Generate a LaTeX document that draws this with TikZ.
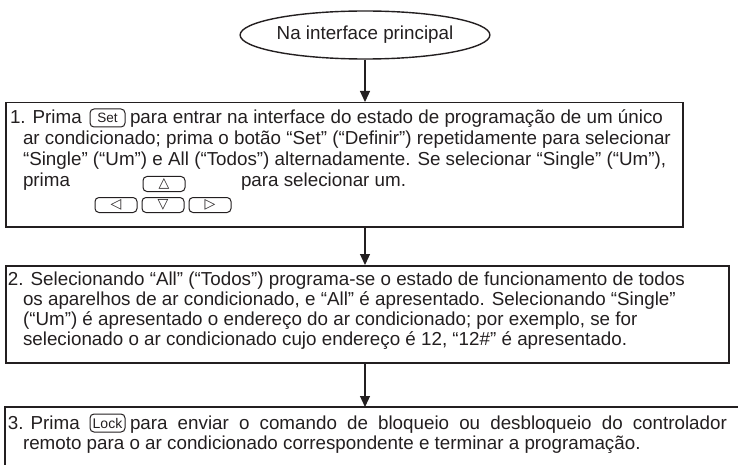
\documentclass[tikz,border=0pt]{standalone}
\usepackage{fontspec}
\setmainfont{Liberation Sans}
\newfontfamily\symfont{DejaVu Sans}
\usetikzlibrary{shapes.geometric,arrows.meta}
\definecolor{ink}{RGB}{35,31,32}
\begin{document}
\begin{tikzpicture}[x=1pt,y=-1pt,
  txt/.style={anchor=base west, inner sep=0pt, outer sep=0pt, text=ink, font=\fontsize{18.8}{20.6}\selectfont},
  box/.style={draw=ink, line width=1.5pt, anchor=north west, inner sep=0pt},
  boxline/.style={draw=ink, line width=1.6pt},
  btn/.style={draw=ink, line width=1pt, rounded corners=4pt, inner sep=0pt, text=ink},
  wbtn/.style={btn, minimum width=35pt, minimum height=18pt, font=\fontsize{13.5}{13.5}\selectfont},
  abtn/.style={btn, minimum width=42pt, minimum height=15pt, font=\symfont\fontsize{14}{14}\selectfont},
  arr/.style={draw=ink, line width=1.2pt, -{Triangle[length=11pt,width=10pt]}},
  startnode/.style={ellipse, draw=ink, line width=1.4pt, minimum width=245pt, minimum height=48pt, inner sep=0pt, text=ink, font=\fontsize{18.8}{20.6}\selectfont}]
\useasboundingbox (0,0) rectangle (738,465);

% start ellipse
\node[startnode] (start) at (365,35) {Na interface principal};

% box 1
\node[box, minimum width=677pt, minimum height=124pt] (box1) at (5,102) {};
\node[txt] (l11) at (10,124) {1. Prima};
\node[wbtn] (bset) at (107.5,118) {Set};
\node[txt] (l12) at (130,124) {para entrar na interface do estado de programação de um único};
\node[txt] (l13) at (23,144.7) {ar condicionado; prima o botão “Set” (“Definir”) repetidamente para selecionar};
\node[txt] (l14) at (23,165.4) {“Single” (“Um”) e All (“Todos”) alternadamente. Se selecionar “Single” (“Um”),};
\node[txt] (l15) at (23,186.5) {prima};
\node[abtn] (bup) at (164,184) {△};
\node[txt] (l16) at (241,186.5) {para selecionar um.};
\node[abtn] (bleft) at (116,205) {◁};
\node[abtn] (bdown) at (163,205) {▽};
\node[abtn] (bright) at (210,205) {▷};

% box 2
\node[box, minimum width=723pt, minimum height=97pt] (box2) at (5,265) {};
\node[txt] (l21) at (8,285) {2. Selecionando “All” (“Todos”) programa-se o estado de funcionamento de todos};
\node[txt] (l22) at (23,305) {os aparelhos de ar condicionado, e “All” é apresentado. Selecionando “Single”};
\node[txt] (l23) at (23,325) {(“Um”) é apresentado o endereço do ar condicionado; por exemplo, se for};
\node[txt] (l24) at (23,345) {selecionado o ar condicionado cujo endereço é 12, “12\#” é apresentado.};

% box 3 (open at right and bottom)
\coordinate (b3r) at (738,407);
\coordinate (b3l) at (5,407);
\coordinate (b3b) at (5,465);
\coordinate (b3) at (365,407);
\draw[boxline] (b3r) -- (b3l) -- (b3b);
\node[txt] (l31) at (8,429) {3. Prima};
\node[wbtn, font=\fontsize{14}{14}\selectfont] (block) at (107.5,423) {Lock};
\node[txt] (l32) at (130,429) {\makebox[597pt][s]{para enviar o comando de bloqueio ou desbloqueio do controlador}};
\node[txt] (l33) at (23,449.5) {remoto para o ar condicionado correspondente e terminar a programação.};

% connectors
\draw[arr] (start.south) -- (start.south |- box1.north);
\draw[arr] (start.south |- box1.south) -- (start.south |- box2.north);
\draw[arr] (start.south |- box2.south) -- (b3);
\end{tikzpicture}
\end{document}
